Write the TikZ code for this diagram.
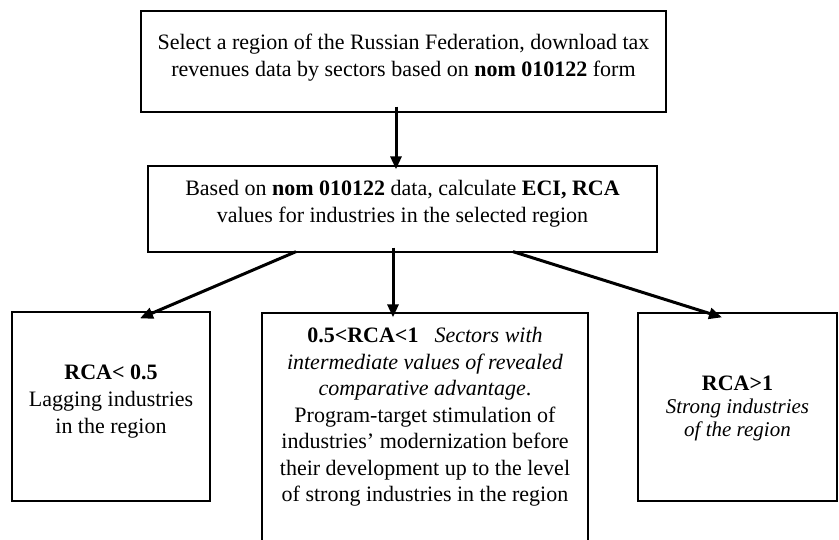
\documentclass[tikz,border=0pt]{standalone}
\usepackage{fontspec}
\setmainfont{Liberation Serif}
\usetikzlibrary{arrows.meta}
\begin{document}
\begin{tikzpicture}[x=1pt,y=-1pt,
  boxstyle/.style={draw=black,line width=1.3pt,rectangle,inner sep=0pt,fill=none},
  txt/.style={anchor=north,inner sep=0pt,align=center,font=\fontsize{22}{27}\selectfont},
  arrowstyle/.style={line width=3pt,-{Triangle[length=13pt,width=11pt]}}]
\useasboundingbox (0,0) rectangle (839,540);
\fill[white] (0,0) rectangle (839,540);
% boxes
\node[boxstyle,minimum width=525pt,minimum height=101pt] (top) at (403.5,61.5) {};
\node[boxstyle,minimum width=509pt,minimum height=86pt] (mid) at (402.5,209) {};
\node[boxstyle,minimum width=198pt,minimum height=189pt] (lbox) at (111,406.5) {};
\node[boxstyle,minimum width=326pt,minimum height=240pt] (cbox) at (425,433) {};
\node[boxstyle,minimum width=199pt,minimum height=188pt] (rbox) at (737.5,407) {};
% texts
\node[txt] (toptext) at (403.5,30.1) {\strut Select a region of the Russian Federation, download tax\\revenues data by sectors based on \textbf{nom 010122} form};
\node[txt] (midtext) at (402.5,176.1) {\strut Based on \textbf{nom 010122} data, calculate \textbf{ECI, RCA}\\values for industries in the selected region};
\node[txt] (ltext) at (111,360.1) {\strut\textbf{RCA< 0.5}\\Lagging industries\\in the region};
\node[txt,font=\fontsize{22}{26.5}\selectfont] (ctext) at (425,324.1) {\strut\textbf{0.5<RCA<1}\hspace{16pt}\textit{Sectors with}\\\textit{intermediate values of revealed}\\\textit{comparative advantage}.\\Program-target stimulation of\\industries’ modernization before\\their development up to the level\\of strong industries in the region};
\node[txt,font=\fontsize{21}{23}\selectfont] (rtext) at (737.5,374.5) {\strut\textbf{\fontsize{22}{23}\selectfont RCA>1}\\\textit{Strong industries}\\\textit{of the region}};
% arrows
\draw[arrowstyle] ([xshift=-7.5pt,yshift=6pt]top.south) -- ([xshift=-6.5pt,yshift=-4pt]mid.north);
\draw[arrowstyle] ([xshift=-106.5pt,yshift=1pt]mid.south) -- ([xshift=29pt,yshift=-7pt]lbox.north);
\draw[arrowstyle] ([xshift=-9.5pt,yshift=5pt]mid.south) -- ([xshift=-32pt,yshift=-5pt]cbox.north);
\draw[arrowstyle] ([xshift=110.5pt,yshift=1pt]mid.south) -- ([xshift=-15.5pt,yshift=-5pt]rbox.north);
\end{tikzpicture}
\end{document}
